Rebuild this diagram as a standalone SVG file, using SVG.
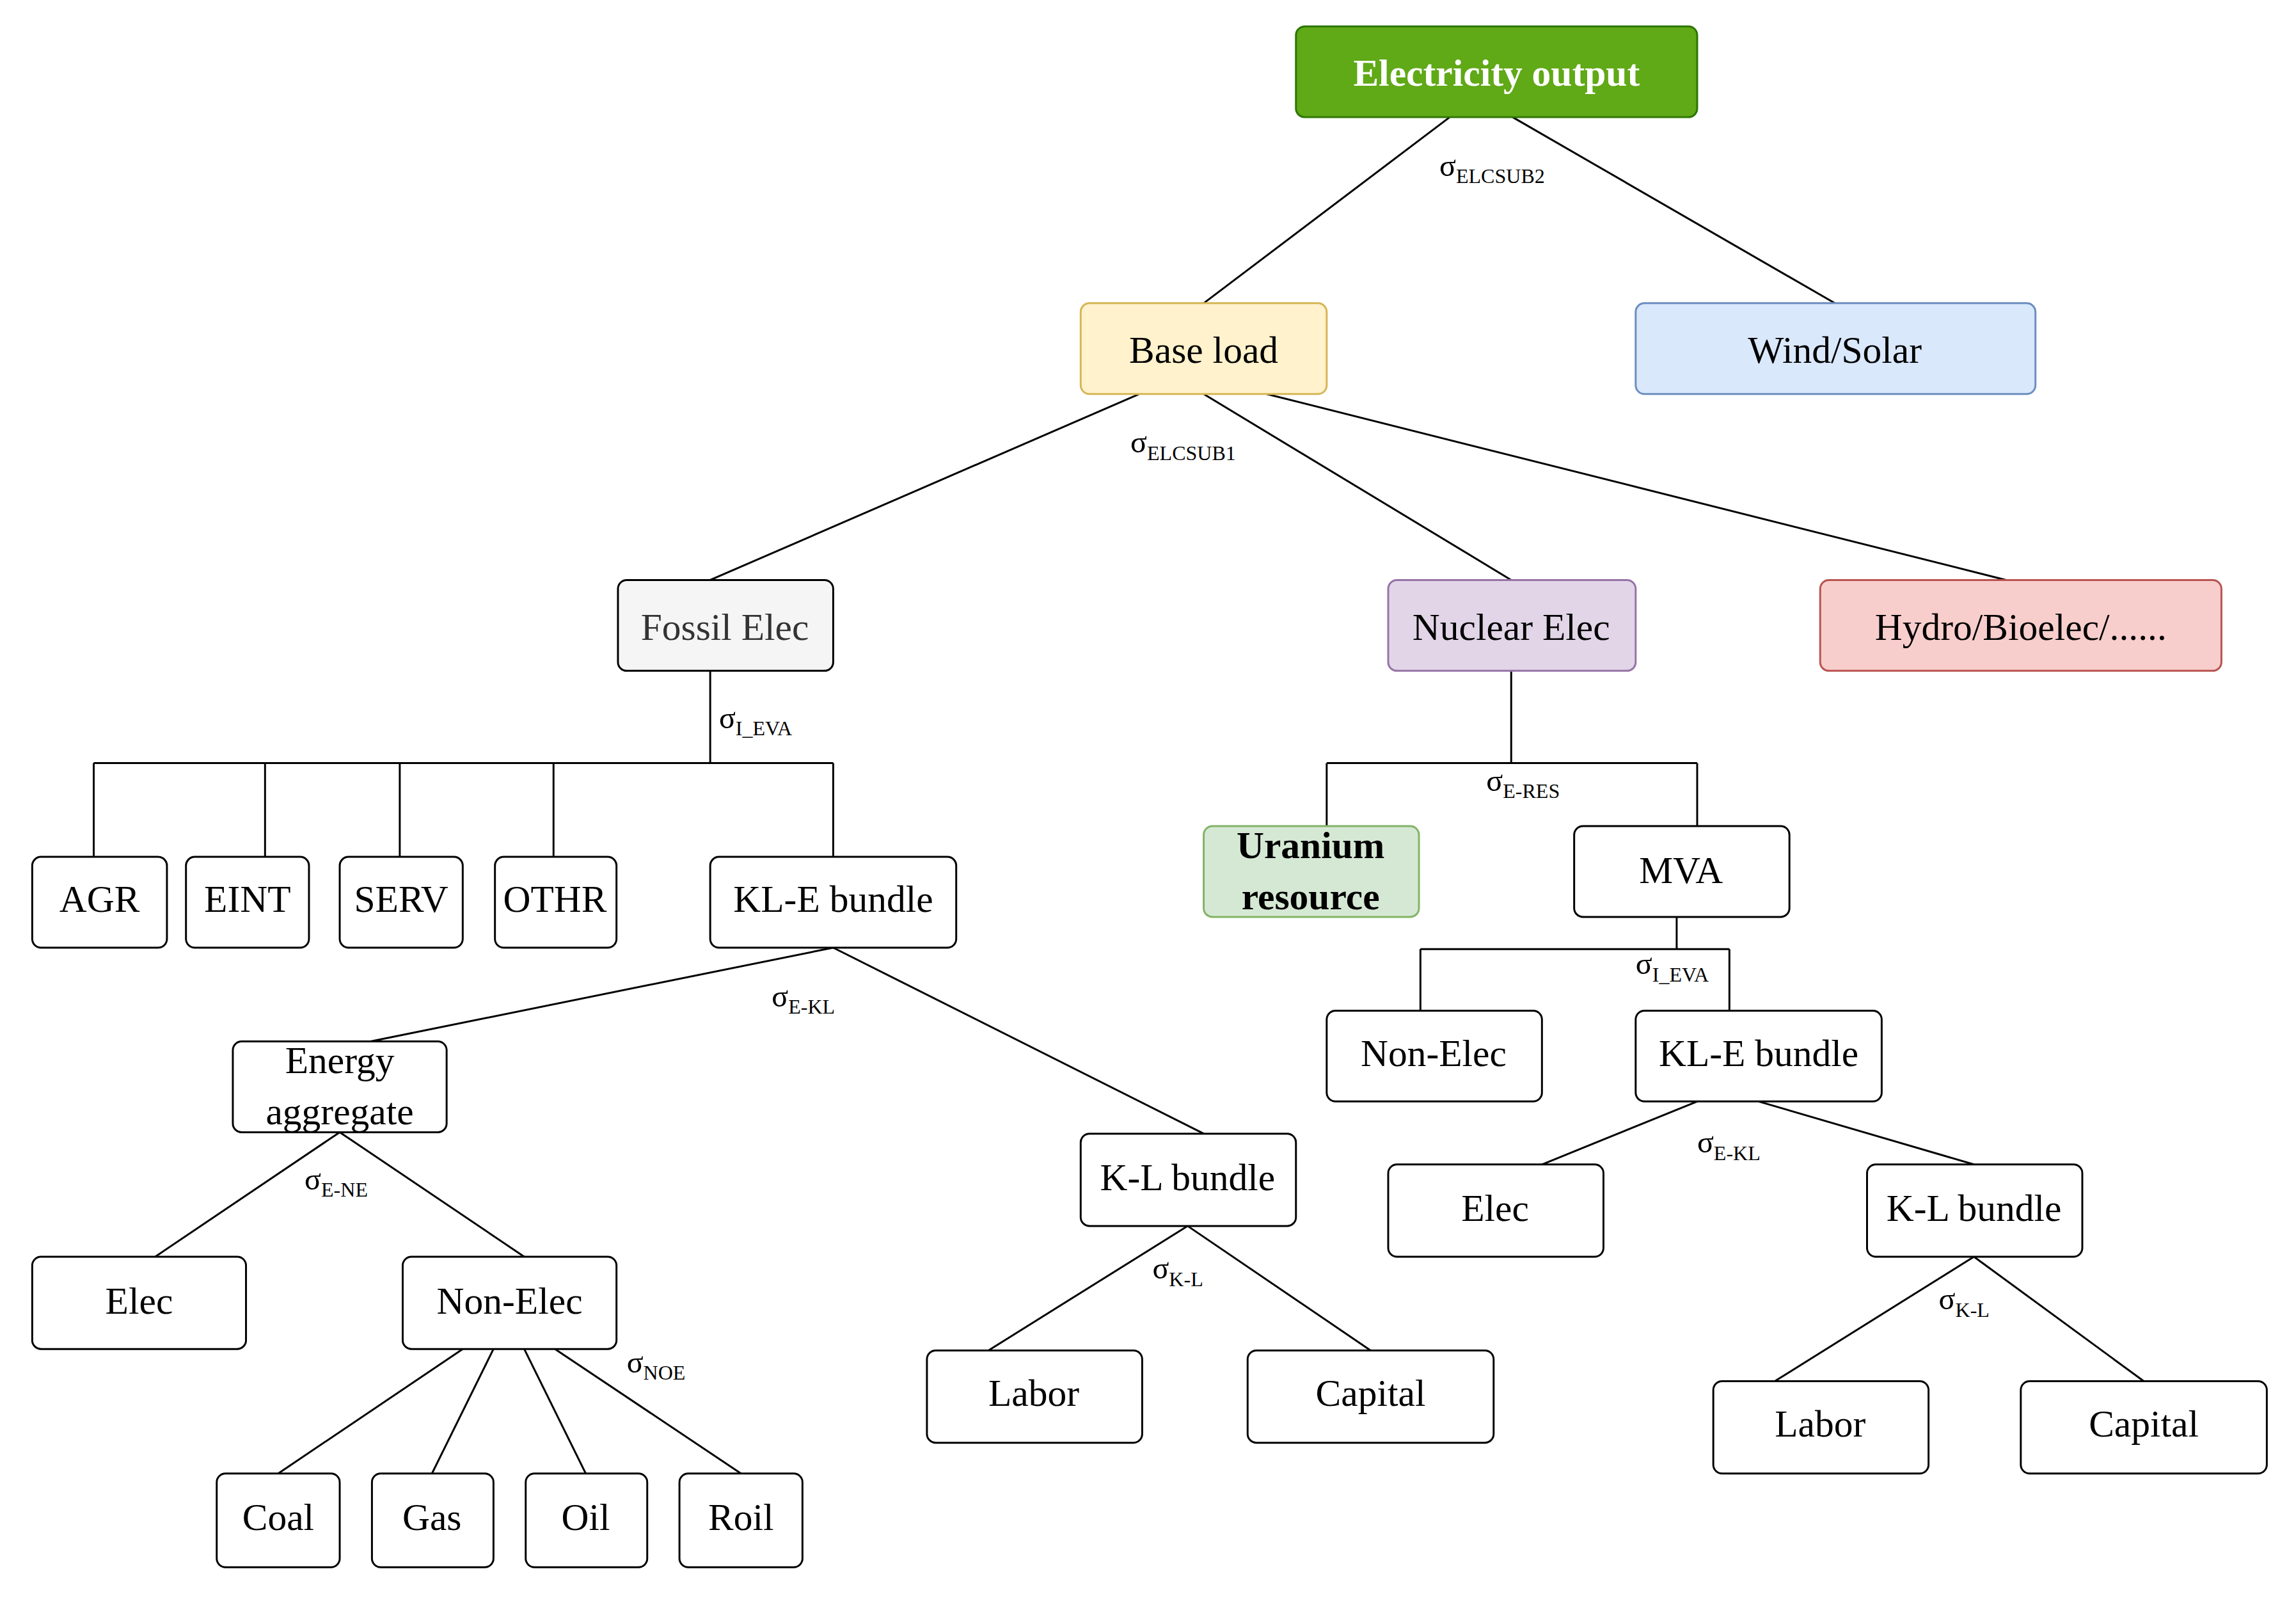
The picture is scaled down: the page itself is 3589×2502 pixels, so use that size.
<svg xmlns="http://www.w3.org/2000/svg" width="3589" height="2502" viewBox="0 0 3589 2502">
<style>
.b{fill:#fff;stroke:#000;stroke-width:1.3}
.t{font-family:"Liberation Serif",serif;font-size:26px;text-anchor:middle;dominant-baseline:central;fill:#000}
.s{font-family:"Liberation Serif",serif;font-size:21px;fill:#000}
.s tspan{font-size:14px}
#c line,#c polyline{stroke:#000;stroke-width:1.3;fill:none}
</style>
<rect width="3589" height="2502" fill="#fff"/>
<g transform="scale(2.289)">
<g id="c">
<line x1="990" y1="80" x2="822" y2="207"/><line x1="1033" y1="80" x2="1253" y2="207"/>
<line x1="778" y1="269" x2="485" y2="396"/><line x1="822" y1="269" x2="1032" y2="396"/><line x1="865" y1="269" x2="1370" y2="396"/>
<line x1="485" y1="458" x2="485" y2="521"/><line x1="64" y1="521" x2="569" y2="521"/>
<line x1="64" y1="521" x2="64" y2="585"/><line x1="181" y1="521" x2="181" y2="585"/><line x1="273" y1="521" x2="273" y2="585"/><line x1="378" y1="521" x2="378" y2="585"/><line x1="569" y1="521" x2="569" y2="585"/>
<line x1="1032" y1="458" x2="1032" y2="521"/><line x1="906" y1="521" x2="1159" y2="521"/><line x1="906" y1="521" x2="906" y2="564"/><line x1="1159" y1="521" x2="1159" y2="564"/>
<line x1="1145" y1="626" x2="1145" y2="648"/><line x1="970" y1="648" x2="1181" y2="648"/><line x1="970" y1="648" x2="970" y2="690"/><line x1="1181" y1="648" x2="1181" y2="690"/>
<line x1="569" y1="647" x2="253" y2="711"/><line x1="569" y1="647" x2="822" y2="774"/>
<line x1="232" y1="773" x2="106" y2="858"/><line x1="232" y1="773" x2="358" y2="858"/>
<line x1="316" y1="921" x2="190" y2="1006"/><line x1="337" y1="921" x2="295" y2="1006"/><line x1="358" y1="921" x2="400" y2="1006"/><line x1="379" y1="921" x2="506" y2="1006"/>
<line x1="811" y1="837" x2="675" y2="922"/><line x1="811" y1="837" x2="936" y2="922"/>
<line x1="1159" y1="752" x2="1053" y2="795"/><line x1="1201" y1="752" x2="1348" y2="795"/>
<line x1="1348" y1="858" x2="1212" y2="943"/><line x1="1348" y1="858" x2="1464" y2="943"/>
<text class="s" x="983" y="120">σ<tspan dy="5">ELCSUB2</tspan></text>
<text class="s" x="772" y="309">σ<tspan dy="5">ELCSUB1</tspan></text>
<text class="s" x="491" y="497">σ<tspan dy="5">I_EVA</tspan></text>
<text class="s" x="1015" y="540">σ<tspan dy="5">E-RES</tspan></text>
<text class="s" x="1117" y="665">σ<tspan dy="5">I_EVA</tspan></text>
<text class="s" x="527" y="687">σ<tspan dy="5">E-KL</tspan></text>
<text class="s" x="208" y="812">σ<tspan dy="5">E-NE</tspan></text>
<text class="s" x="1159" y="787">σ<tspan dy="5">E-KL</tspan></text>
<text class="s" x="428" y="937">σ<tspan dy="5">NOE</tspan></text>
<text class="s" x="787" y="873">σ<tspan dy="5">K-L</tspan></text>
<text class="s" x="1324" y="894">σ<tspan dy="5">K-L</tspan></text>
</g>
<g id="n1"><rect x="885" y="18" width="274" height="62" rx="6" fill="#60a917" stroke="#2d7600" stroke-width="1.3"/><text class="t" x="1022" y="50" fill="#fff" style="fill:#fff;font-weight:bold">Electricity output</text></g>
<g id="n2"><rect x="738" y="207" width="168" height="62" rx="6" fill="#fff2cc" stroke="#d6b656" stroke-width="1.3"/><text class="t" x="822" y="239">Base load</text></g>
<g id="n3"><rect x="1117" y="207" width="273" height="62" rx="6" fill="#dae8fc" stroke="#6c8ebf" stroke-width="1.3"/><text class="t" x="1253" y="239">Wind/Solar</text></g>
<g id="n4"><rect x="422" y="396" width="147" height="62" rx="6" fill="#f5f5f5" stroke="#000" stroke-width="1.3"/><text class="t" x="495" y="428" style="fill:#333">Fossil Elec</text></g>
<g id="n5"><rect x="948" y="396" width="169" height="62" rx="6" fill="#e1d5e7" stroke="#9673a6" stroke-width="1.3"/><text class="t" x="1032" y="428">Nuclear Elec</text></g>
<g id="n6"><rect x="1243" y="396" width="274" height="62" rx="6" fill="#f8cecc" stroke="#b85450" stroke-width="1.3"/><text class="t" x="1380" y="428">Hydro/Bioelec/......</text></g>
<g id="n7"><rect class="b" x="22" y="585" width="92" height="62" rx="6"/><text class="t" x="68" y="614">AGR</text></g>
<g id="n8"><rect class="b" x="127" y="585" width="84" height="62" rx="6"/><text class="t" x="169" y="614">EINT</text></g>
<g id="n9"><rect class="b" x="232" y="585" width="84" height="62" rx="6"/><text class="t" x="274" y="614">SERV</text></g>
<g id="n10"><rect class="b" x="338" y="585" width="83" height="62" rx="6"/><text class="t" x="379" y="614">OTHR</text></g>
<g id="n11"><rect class="b" x="485" y="585" width="168" height="62" rx="6"/><text class="t" x="569" y="614">KL-E bundle</text></g>
<g id="n12"><rect x="822" y="564" width="147" height="62" rx="6" fill="#d5e8d4" stroke="#82b366" stroke-width="1.3"/><text class="t" x="895" y="577" style="font-weight:bold">Uranium</text><text class="t" x="895" y="612" style="font-weight:bold">resource</text></g>
<g id="n13"><rect class="b" x="1075" y="564" width="147" height="62" rx="6"/><text class="t" x="1148" y="594">MVA</text></g>
<g id="n14"><rect class="b" x="159" y="711" width="146" height="62" rx="6"/><text class="t" x="232" y="724">Energy</text><text class="t" x="232" y="759">aggregate</text></g>
<g id="n15"><rect class="b" x="906" y="690" width="147" height="62" rx="6"/><text class="t" x="979" y="719">Non-Elec</text></g>
<g id="n16"><rect class="b" x="1117" y="690" width="168" height="62" rx="6"/><text class="t" x="1201" y="719">KL-E bundle</text></g>
<g id="n17"><rect class="b" x="738" y="774" width="147" height="63" rx="6"/><text class="t" x="811" y="804">K-L bundle</text></g>
<g id="n18"><rect class="b" x="948" y="795" width="147" height="63" rx="6"/><text class="t" x="1021" y="825">Elec</text></g>
<g id="n19"><rect class="b" x="1275" y="795" width="147" height="63" rx="6"/><text class="t" x="1348" y="825">K-L bundle</text></g>
<g id="n20"><rect class="b" x="22" y="858" width="146" height="63" rx="6"/><text class="t" x="95" y="888">Elec</text></g>
<g id="n21"><rect class="b" x="275" y="858" width="146" height="63" rx="6"/><text class="t" x="348" y="888">Non-Elec</text></g>
<g id="n22"><rect class="b" x="633" y="922" width="147" height="63" rx="6"/><text class="t" x="706" y="951">Labor</text></g>
<g id="n23"><rect class="b" x="852" y="922" width="168" height="63" rx="6"/><text class="t" x="936" y="951">Capital</text></g>
<g id="n24"><rect class="b" x="1170" y="943" width="147" height="63" rx="6"/><text class="t" x="1243" y="972">Labor</text></g>
<g id="n25"><rect class="b" x="1380" y="943" width="168" height="63" rx="6"/><text class="t" x="1464" y="972">Capital</text></g>
<g id="n26"><rect class="b" x="148" y="1006" width="84" height="64" rx="6"/><text class="t" x="190" y="1036">Coal</text></g>
<g id="n27"><rect class="b" x="254" y="1006" width="83" height="64" rx="6"/><text class="t" x="295" y="1036">Gas</text></g>
<g id="n28"><rect class="b" x="359" y="1006" width="83" height="64" rx="6"/><text class="t" x="400" y="1036">Oil</text></g>
<g id="n29"><rect class="b" x="464" y="1006" width="84" height="64" rx="6"/><text class="t" x="506" y="1036">Roil</text></g>
</g>
</svg>
